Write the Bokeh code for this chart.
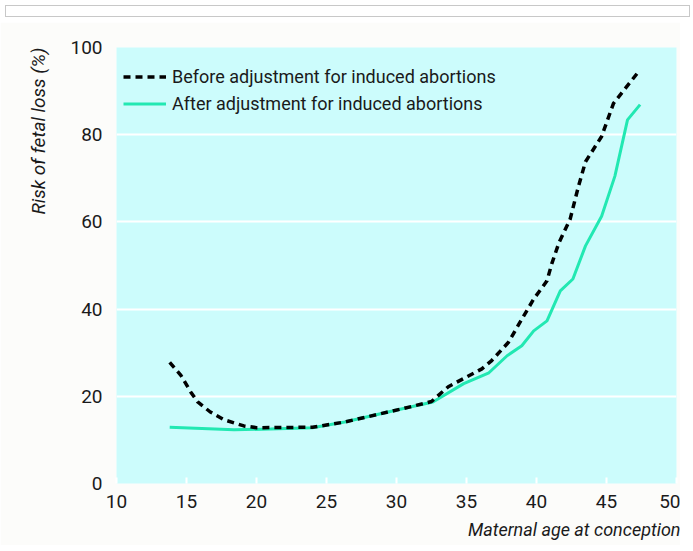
from bokeh.plotting import figure
from bokeh.models import Title, FixedTicker, Legend, LegendItem, Div, Range1d
from bokeh.layouts import column
from bokeh.embed import file_html
from bokeh.resources import INLINE

# Data
age_before = [13.8, 14.6, 15.3, 15.8, 16.7, 17.7, 19.1, 20.0, 24.0, 26.3, 29.4, 30.5,
              32.5, 33.7, 36.1, 36.8, 38.0, 38.95, 39.8, 40.75, 41.1, 41.6, 42.4,
              43.0, 43.5, 44.65, 45.5, 47.3]
risk_before = [27.8, 24.8, 21.0, 18.7, 16.4, 14.6, 13.2, 12.8, 12.9, 14.1, 16.4, 17.2,
               18.8, 22.2, 26.3, 28.2, 32.4, 37.7, 42.3, 46.5, 50.5, 55.2, 60.6,
               68.2, 73.8, 79.6, 87.2, 94.5]

age_after = [13.8, 18.4, 21.0, 24.0, 26.3, 29.4, 30.5, 32.6, 34.8, 36.6, 37.9, 38.95,
             39.8, 40.75, 41.7, 42.6, 43.5, 44.65, 45.6, 46.5, 47.4]
risk_after = [12.9, 12.3, 12.5, 12.8, 14.1, 16.4, 17.2, 18.7, 22.9, 25.4, 29.3, 31.6,
              35.0, 37.3, 44.2, 46.9, 54.5, 61.3, 70.5, 83.4, 86.9]

x_ticks = [10, 15, 20, 25, 30, 35, 40, 45, 50]
y_ticks = [0, 20, 40, 60, 80, 100]
label_before = "Before adjustment for induced abortions"
label_after = "After adjustment for induced abortions"

FONT = "Roboto"
BG = "#fcfcfa"
TXT = "#1a1a1a"

p = figure(frame_width=560, frame_height=436, output_backend="svg", toolbar_location=None,
           x_range=Range1d(10, 50), y_range=Range1d(0, 100),
           background_fill_color="#ccfcfc", border_fill_color=BG,
           min_border_left=116, min_border_right=4, min_border_top=25,
           min_border_bottom=60, outline_line_color=None)

# grid
p.xgrid.grid_line_color = None
p.ygrid.ticker = FixedTicker(ticks=[20, 40, 60, 80])
p.ygrid.grid_line_color = "white"
p.ygrid.grid_line_width = 2

# axes
p.xaxis.ticker = FixedTicker(ticks=x_ticks)
p.yaxis.ticker = FixedTicker(ticks=y_ticks)
for ax in (p.xaxis, p.yaxis):
    ax.axis_line_color = None
    ax.major_label_text_font = FONT
    ax.major_label_text_font_size = "19px"
    ax.major_label_text_color = TXT
    ax.minor_tick_line_color = None
p.xaxis.major_tick_in = 6
p.xaxis.major_tick_out = 0
p.xaxis.major_tick_line_color = "white"
p.xaxis.major_tick_line_width = 2
p.xaxis.major_label_standoff = 11
p.yaxis.major_tick_line_color = None
p.yaxis.major_label_standoff = 8

# lines
r_after = p.line(age_after, risk_after, line_color="#22e8b2", line_width=3)
r_before = p.line(age_before, risk_before, line_color="black", line_width=3.5,
                  line_dash="7 5")

legend = Legend(items=[LegendItem(label=label_before, renderers=[r_before]),
                       LegendItem(label=label_after, renderers=[r_after])],
                location=(7, 366), background_fill_alpha=0, border_line_color=None,
                padding=0, spacing=0, margin=0, glyph_width=43, glyph_height=27,
                label_height=27, label_standoff=6, label_text_font=FONT,
                label_text_font_size="18px", label_text_color=TXT)
p.add_layout(legend, "center")

p.add_layout(Title(text="Maternal age at conception", align="right",
                   text_font=FONT, text_font_style="italic", text_font_size="18px",
                   text_color=TXT, standoff=12, offset=-4), "below")
p.add_layout(Title(text="Risk of fetal loss (%)", align="right",
                   text_font=FONT, text_font_style="italic", text_font_size="19px",
                   text_color=TXT, standoff=35, offset=0), "left")

top_box = Div(text="", width=685, height=12,
              styles={"border": "1px solid #c8c8c8", "box-sizing": "border-box"})

layout = column(top_box, p, spacing=0)
open("out.html", "w").write(file_html(layout, INLINE))
